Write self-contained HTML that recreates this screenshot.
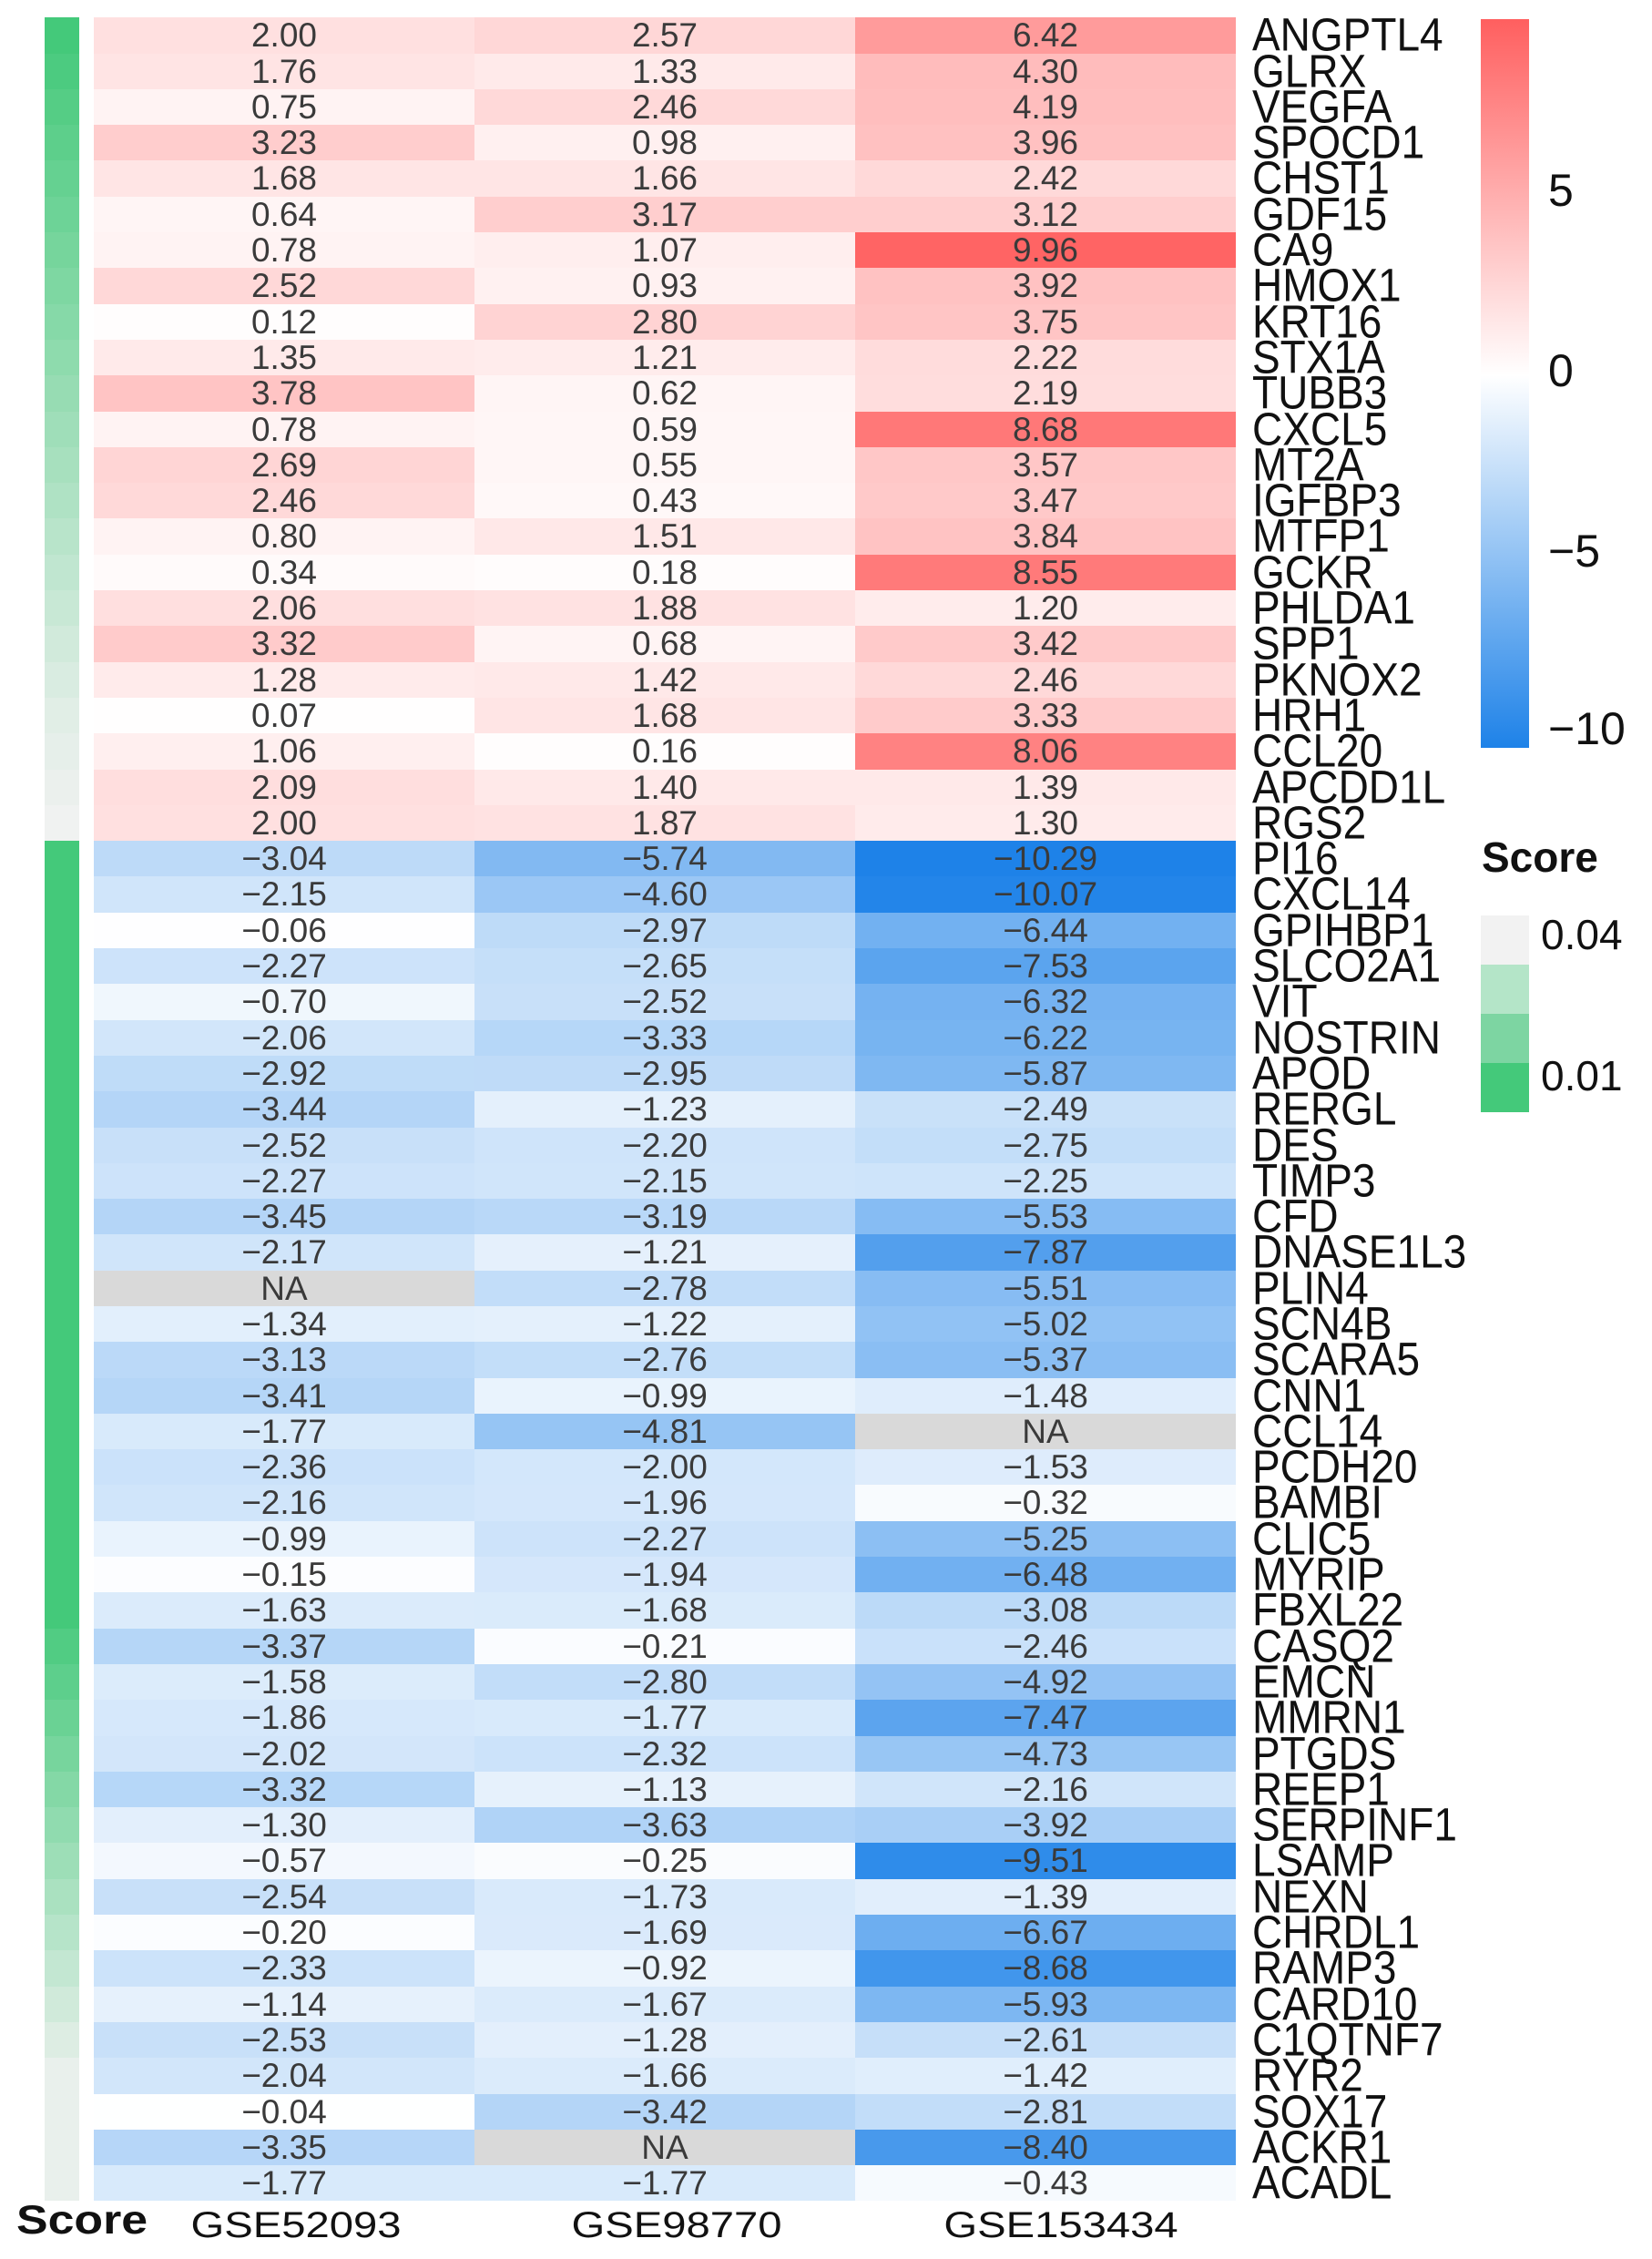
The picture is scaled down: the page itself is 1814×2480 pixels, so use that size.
<!DOCTYPE html>
<html><head><meta charset="utf-8">
<style>
body{margin:0;width:1814px;height:2480px;background:#fff;position:relative;overflow:hidden;font-family:"Liberation Sans",sans-serif}
#hm{position:absolute;left:0;top:19.3px}
.r{position:relative;height:39.3px}
.r .s{position:absolute;left:49px;width:38px;top:0;height:100%}
.r b{position:absolute;top:0;height:100%;width:418px;font-weight:normal;font-size:37px;line-height:39.3px;text-align:center;color:#3a3a3a;white-space:nowrap}
.r b span{display:inline-block;transform:scale(0.95,1.08)}
.r b:nth-of-type(1){left:103px}
.r b:nth-of-type(2){left:521px;width:418px}
.r b:nth-of-type(3){left:939px;width:418px}
.r u{position:absolute;left:1375px;top:0;text-decoration:none;font-size:46px;line-height:39.3px;color:#111;white-space:nowrap;transform:scale(1,1.1);transform-origin:left center}
.t{position:absolute;white-space:nowrap;color:#111}
</style></head><body>
<div id="hm">
<div class="r"><i class="s"></i><b>2.00</b><b>2.57</b><b>6.42</b><u>ANGPTL4</u></div>
<div class="r"><i class="s"></i><b>1.76</b><b>1.33</b><b>4.30</b><u>GLRX</u></div>
<div class="r"><i class="s"></i><b>0.75</b><b>2.46</b><b>4.19</b><u>VEGFA</u></div>
<div class="r"><i class="s"></i><b>3.23</b><b>0.98</b><b>3.96</b><u>SPOCD1</u></div>
<div class="r"><i class="s"></i><b>1.68</b><b>1.66</b><b>2.42</b><u>CHST1</u></div>
<div class="r"><i class="s"></i><b>0.64</b><b>3.17</b><b>3.12</b><u>GDF15</u></div>
<div class="r"><i class="s"></i><b>0.78</b><b>1.07</b><b>9.96</b><u>CA9</u></div>
<div class="r"><i class="s"></i><b>2.52</b><b>0.93</b><b>3.92</b><u>HMOX1</u></div>
<div class="r"><i class="s"></i><b>0.12</b><b>2.80</b><b>3.75</b><u>KRT16</u></div>
<div class="r"><i class="s"></i><b>1.35</b><b>1.21</b><b>2.22</b><u>STX1A</u></div>
<div class="r"><i class="s"></i><b>3.78</b><b>0.62</b><b>2.19</b><u>TUBB3</u></div>
<div class="r"><i class="s"></i><b>0.78</b><b>0.59</b><b>8.68</b><u>CXCL5</u></div>
<div class="r"><i class="s"></i><b>2.69</b><b>0.55</b><b>3.57</b><u>MT2A</u></div>
<div class="r"><i class="s"></i><b>2.46</b><b>0.43</b><b>3.47</b><u>IGFBP3</u></div>
<div class="r"><i class="s"></i><b>0.80</b><b>1.51</b><b>3.84</b><u>MTFP1</u></div>
<div class="r"><i class="s"></i><b>0.34</b><b>0.18</b><b>8.55</b><u>GCKR</u></div>
<div class="r"><i class="s"></i><b>2.06</b><b>1.88</b><b>1.20</b><u>PHLDA1</u></div>
<div class="r"><i class="s"></i><b>3.32</b><b>0.68</b><b>3.42</b><u>SPP1</u></div>
<div class="r"><i class="s"></i><b>1.28</b><b>1.42</b><b>2.46</b><u>PKNOX2</u></div>
<div class="r"><i class="s"></i><b>0.07</b><b>1.68</b><b>3.33</b><u>HRH1</u></div>
<div class="r"><i class="s"></i><b>1.06</b><b>0.16</b><b>8.06</b><u>CCL20</u></div>
<div class="r"><i class="s"></i><b>2.09</b><b>1.40</b><b>1.39</b><u>APCDD1L</u></div>
<div class="r"><i class="s"></i><b>2.00</b><b>1.87</b><b>1.30</b><u>RGS2</u></div>
<div class="r"><i class="s"></i><b>−3.04</b><b>−5.74</b><b>−10.29</b><u>PI16</u></div>
<div class="r"><i class="s"></i><b>−2.15</b><b>−4.60</b><b>−10.07</b><u>CXCL14</u></div>
<div class="r"><i class="s"></i><b>−0.06</b><b>−2.97</b><b>−6.44</b><u>GPIHBP1</u></div>
<div class="r"><i class="s"></i><b>−2.27</b><b>−2.65</b><b>−7.53</b><u>SLCO2A1</u></div>
<div class="r"><i class="s"></i><b>−0.70</b><b>−2.52</b><b>−6.32</b><u>VIT</u></div>
<div class="r"><i class="s"></i><b>−2.06</b><b>−3.33</b><b>−6.22</b><u>NOSTRIN</u></div>
<div class="r"><i class="s"></i><b>−2.92</b><b>−2.95</b><b>−5.87</b><u>APOD</u></div>
<div class="r"><i class="s"></i><b>−3.44</b><b>−1.23</b><b>−2.49</b><u>RERGL</u></div>
<div class="r"><i class="s"></i><b>−2.52</b><b>−2.20</b><b>−2.75</b><u>DES</u></div>
<div class="r"><i class="s"></i><b>−2.27</b><b>−2.15</b><b>−2.25</b><u>TIMP3</u></div>
<div class="r"><i class="s"></i><b>−3.45</b><b>−3.19</b><b>−5.53</b><u>CFD</u></div>
<div class="r"><i class="s"></i><b>−2.17</b><b>−1.21</b><b>−7.87</b><u>DNASE1L3</u></div>
<div class="r"><i class="s"></i><b>NA</b><b>−2.78</b><b>−5.51</b><u>PLIN4</u></div>
<div class="r"><i class="s"></i><b>−1.34</b><b>−1.22</b><b>−5.02</b><u>SCN4B</u></div>
<div class="r"><i class="s"></i><b>−3.13</b><b>−2.76</b><b>−5.37</b><u>SCARA5</u></div>
<div class="r"><i class="s"></i><b>−3.41</b><b>−0.99</b><b>−1.48</b><u>CNN1</u></div>
<div class="r"><i class="s"></i><b>−1.77</b><b>−4.81</b><b>NA</b><u>CCL14</u></div>
<div class="r"><i class="s"></i><b>−2.36</b><b>−2.00</b><b>−1.53</b><u>PCDH20</u></div>
<div class="r"><i class="s"></i><b>−2.16</b><b>−1.96</b><b>−0.32</b><u>BAMBI</u></div>
<div class="r"><i class="s"></i><b>−0.99</b><b>−2.27</b><b>−5.25</b><u>CLIC5</u></div>
<div class="r"><i class="s"></i><b>−0.15</b><b>−1.94</b><b>−6.48</b><u>MYRIP</u></div>
<div class="r"><i class="s"></i><b>−1.63</b><b>−1.68</b><b>−3.08</b><u>FBXL22</u></div>
<div class="r"><i class="s"></i><b>−3.37</b><b>−0.21</b><b>−2.46</b><u>CASQ2</u></div>
<div class="r"><i class="s"></i><b>−1.58</b><b>−2.80</b><b>−4.92</b><u>EMCN</u></div>
<div class="r"><i class="s"></i><b>−1.86</b><b>−1.77</b><b>−7.47</b><u>MMRN1</u></div>
<div class="r"><i class="s"></i><b>−2.02</b><b>−2.32</b><b>−4.73</b><u>PTGDS</u></div>
<div class="r"><i class="s"></i><b>−3.32</b><b>−1.13</b><b>−2.16</b><u>REEP1</u></div>
<div class="r"><i class="s"></i><b>−1.30</b><b>−3.63</b><b>−3.92</b><u>SERPINF1</u></div>
<div class="r"><i class="s"></i><b>−0.57</b><b>−0.25</b><b>−9.51</b><u>LSAMP</u></div>
<div class="r"><i class="s"></i><b>−2.54</b><b>−1.73</b><b>−1.39</b><u>NEXN</u></div>
<div class="r"><i class="s"></i><b>−0.20</b><b>−1.69</b><b>−6.67</b><u>CHRDL1</u></div>
<div class="r"><i class="s"></i><b>−2.33</b><b>−0.92</b><b>−8.68</b><u>RAMP3</u></div>
<div class="r"><i class="s"></i><b>−1.14</b><b>−1.67</b><b>−5.93</b><u>CARD10</u></div>
<div class="r"><i class="s"></i><b>−2.53</b><b>−1.28</b><b>−2.61</b><u>C1QTNF7</u></div>
<div class="r"><i class="s"></i><b>−2.04</b><b>−1.66</b><b>−1.42</b><u>RYR2</u></div>
<div class="r"><i class="s"></i><b>−0.04</b><b>−3.42</b><b>−2.81</b><u>SOX17</u></div>
<div class="r"><i class="s"></i><b>−3.35</b><b>NA</b><b>−8.40</b><u>ACKR1</u></div>
<div class="r"><i class="s"></i><b>−1.77</b><b>−1.77</b><b>−0.43</b><u>ACADL</u></div>
</div>

<div style="position:absolute;left:1626px;top:21px;width:53px;height:800px;background:linear-gradient(to bottom,#ff5f5f 0%,#ffffff 48.9%,#1e82e8 100%)"></div>
<div class="t" style="left:1700px;top:184px;font-size:50px;line-height:50px">5</div>
<div class="t" style="left:1700px;top:382px;font-size:50px;line-height:50px">0</div>
<div class="t" style="left:1700px;top:580px;font-size:50px;line-height:50px">−5</div>
<div class="t" style="left:1700px;top:775px;font-size:50px;line-height:50px">−10</div>

<div class="t" style="left:1627px;top:918px;font-size:46px;line-height:46px;font-weight:bold">Score</div>
<div style="position:absolute;left:1626px;top:1005px;width:53px;height:54px;background:#f2f2f2"></div>
<div style="position:absolute;left:1626px;top:1059px;width:53px;height:54px;background:#b4e5c8"></div>
<div style="position:absolute;left:1626px;top:1113px;width:53px;height:54px;background:#7dd5a2"></div>
<div style="position:absolute;left:1626px;top:1167px;width:53px;height:54px;background:#44c97a"></div>
<div class="t" style="left:1692px;top:1003px;font-size:46px;line-height:46px">0.04</div>
<div class="t" style="left:1692px;top:1158px;font-size:46px;line-height:46px">0.01</div>

<div class="t" style="left:18px;top:2416px;font-size:48px;line-height:48px;font-weight:bold;transform:scale(1.08,0.92);transform-origin:left top">Score</div>
<div class="t" style="left:175px;top:2423px;font-size:40px;line-height:40px;width:300px;text-align:center;transform:scaleX(1.18)">GSE52093</div>
<div class="t" style="left:593px;top:2423px;font-size:40px;line-height:40px;width:300px;text-align:center;transform:scaleX(1.18)">GSE98770</div>
<div class="t" style="left:1015px;top:2423px;font-size:40px;line-height:40px;width:300px;text-align:center;transform:scaleX(1.18)">GSE153434</div>

<script>
function col(v){
  if(isNaN(v))return 'rgb(217,217,217)';
  if(v>=0){var t=Math.min(v/9.96,1);return 'rgb(255,'+Math.round(255-155*t)+','+Math.round(255-155*t)+')';}
  var t=Math.min(-v/10.3,1);return 'rgb('+Math.round(255-225*t)+','+Math.round(255-125*t)+','+Math.round(255-23*t)+')';
}
var rows=document.querySelectorAll('.r');
var g0=[68,201,122],g1=[242,242,242];
rows.forEach(function(r,i){
  r.querySelectorAll('b').forEach(function(b){
    var v=parseFloat(b.textContent.replace('−','-'));b.style.background=col(v);
  });
  var t;
  if(i<23){t=Math.min(i/20,1)*0.95;if(i>=19)t=0.9+(i-19)*0.03;}
  else{var j=i-23;t=j<21?0:Math.min((j-21)/13,1)*0.95;}
  var c=g0.map(function(a,k){return Math.round(a+(g1[k]-a)*Math.min(t,1));});
  r.querySelector('.s').style.background='rgb('+c.join(',')+')';
});
</script>
</body></html>
